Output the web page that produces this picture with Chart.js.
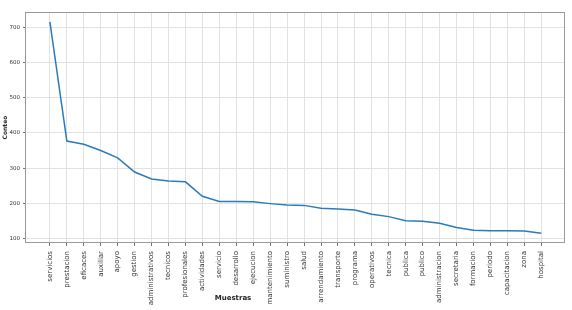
<!DOCTYPE html>
<html>
<head>
<meta charset="utf-8">
<script src="https://cdn.jsdelivr.net/npm/chart.js@4/dist/chart.umd.min.js"></script>
<style>
  html, body { margin: 0; padding: 0; background: #fff; }
  #wrap { width: 572px; height: 310px; }
</style>
</head>
<body>
<div id="wrap"><canvas id="chart" width="572" height="310"></canvas></div>
<script>
// categorias (muestras) y conteos
const categorias = ['servicios', 'prestacion', 'eficaces', 'auxiliar', 'apoyo', 'gestion',
  'administrativos', 'tecnicos', 'profesionales', 'actividades', 'servicio', 'desarrollo',
  'ejecucion', 'mantenimiento', 'suministro', 'salud', 'arrendamiento', 'transporte',
  'programa', 'operativos', 'tecnica', 'publica', 'publico', 'administracion', 'secretaria',
  'formacion', 'periodo', 'capacitacion', 'zona', 'hospital'];
const conteos = [716, 377, 368, 350, 329, 289, 269, 263, 261, 220, 205, 205,
  204, 199, 195, 194, 186, 184, 181, 169, 162, 150, 149, 143, 131,
  123, 122, 122, 121, 115];
const yTicks = [100, 200, 300, 400, 500, 600, 700];

const fuente = "'DejaVu Sans', sans-serif";

// marco del area de grafico y titulo del eje x
const marco = {
  id: 'marco',
  afterDraw(chart) {
    const { ctx, chartArea: a } = chart;
    ctx.save();
    ctx.strokeStyle = '#9a9a9a';
    ctx.lineWidth = 1;
    ctx.strokeRect(a.left + 0.5, a.top + 0.5, a.right - a.left - 1, a.bottom - a.top - 1);
    ctx.fillStyle = '#222';
    ctx.font = 'bold 7px ' + fuente;
    ctx.textAlign = 'center';
    ctx.textBaseline = 'middle';
    ctx.fillText('Muestras', 233, 298);
    ctx.restore();
  }
};

const ctx = document.getElementById('chart').getContext('2d');
new Chart(ctx, {
  type: 'line',
  data: {
    datasets: [{
      label: 'Conteo',
      data: conteos.map((v, i) => ({ x: i, y: v })),
      borderColor: '#2b7bba',
      borderWidth: 1.5,
      pointRadius: 0,
      tension: 0,
      fill: false
    }]
  },
  options: {
    responsive: false,
    animation: false,
    layout: { padding: { top: 12, right: 7, left: 2, bottom: 0 } },
    plugins: { legend: { display: false }, tooltip: { enabled: false } },
    scales: {
      x: {
        type: 'linear',
        min: -1.47,
        max: 30.4,
        afterBuildTicks(axis) { axis.ticks = categorias.map((c, i) => ({ value: i })); },
        afterFit(scale) { scale.height = 67; },
        grid: { color: '#e2e2e2', tickColor: '#777', tickLength: 3 },
        border: { display: false },
        ticks: {
          autoSkip: false,
          minRotation: 90,
          maxRotation: 90,
          padding: 5,
          color: '#333',
          font: { family: fuente, size: 7 },
          callback: (v) => categorias[v]
        }
      },
      y: {
        min: 87,
        max: 744,
        afterBuildTicks(axis) { axis.ticks = yTicks.map(v => ({ value: v })); },
        afterFit(scale) { scale.width = 23; },
        grid: { color: '#e2e2e2', tickColor: '#777', tickLength: 2 },
        border: { display: false },
        title: {
          display: true,
          text: 'Conteo',
          color: '#222',
          padding: { top: 0, bottom: 0 },
          font: { family: fuente, size: 6, weight: 'bold' }
        },
        ticks: {
          padding: 3,
          color: '#333',
          font: { family: fuente, size: 5.5 }
        }
      }
    }
  },
  plugins: [marco]
});
</script>
</body>
</html>
